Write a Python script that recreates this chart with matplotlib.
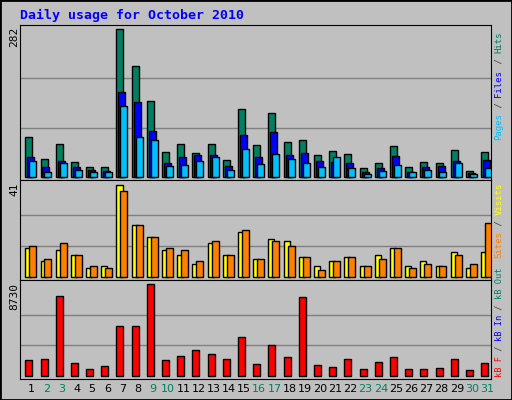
import matplotlib
matplotlib.use("Agg")
import matplotlib.pyplot as plt
from matplotlib.patches import Rectangle

days = list(range(1, 32))
weekend = [2, 3, 9, 10, 16, 17, 23, 24, 30, 31]

hits = [77, 35, 62, 29, 18, 18, 282, 211, 144, 47, 62, 45, 62, 33, 129, 60,
        121, 66, 70, 41, 50, 43, 16, 27, 58, 18, 29, 27, 52, 12, 47]
files = [37, 18, 31, 18, 14, 12, 163, 142, 87, 27, 37, 41, 41, 20, 79, 37,
         85, 41, 45, 31, 29, 26, 10, 16, 39, 10, 18, 20, 31, 8, 33]
pages = [31, 10, 27, 14, 10, 10, 135, 77, 70, 20, 22, 31, 37, 14, 54, 24,
         43, 35, 26, 18, 37, 16, 6, 12, 22, 10, 14, 10, 27, 6, 16]
visits = [13, 7, 12, 10, 4, 5, 41, 23, 18, 12, 10, 6, 15, 10, 20, 8,
          17, 16, 9, 5, 7, 9, 5, 10, 13, 5, 7, 5, 11, 4, 11]
sites = [14, 8, 15, 10, 5, 4, 38, 23, 18, 13, 12, 7, 16, 10, 21, 8,
         16, 14, 9, 3, 7, 9, 5, 8, 13, 4, 6, 5, 10, 6, 24]
kbytes = [1466, 1561, 7583, 1179, 605, 892, 4747, 4747, 8730, 1466, 1848,
          2421, 2039, 1561, 3664, 1083, 2900, 1752, 7487, 988, 797, 1561,
          605, 1274, 1752, 605, 605, 701, 1561, 510, 1179]

BG = "#C0C0C0"
MONO = "DejaVu Sans Mono"
W, H = 512, 400

fig = plt.figure(figsize=(5.12, 4), dpi=100, facecolor=BG)
fig.patches.append(Rectangle((0, 0), 1, 1, transform=fig.transFigure,
                             fill=False, ec="black", lw=2))


def panel(top, bottom, peak, ymax, lo):
    ax = fig.add_axes([20 / W, 1 - bottom / H, 471 / W, (bottom - top) / H])
    ax.set_facecolor(BG)
    ax.set_xlim(0, 31)
    ax.set_ylim(lo, ymax)
    ax.set_xticks([])
    ax.set_yticks([])
    for f in (1 / 3, 2 / 3):
        ax.axhline(f * peak, color="#808080", lw=1, zorder=0)
    for s in ax.spines.values():
        s.set_color("black")
    return ax


ax1 = panel(25, 180, 282, 290, -6)
ax2 = panel(180, 280, 41, 43, -1.2)
ax3 = panel(280, 379, 8730, 9100, -300)

x0 = [d - 1 for d in days]
kw = dict(align="edge", edgecolor="black", linewidth=1)
ax1.bar([x + 0.35 for x in x0], hits, 0.46, color="#008060", **kw)
ax1.bar([x + 0.48 for x in x0], files, 0.46, color="#0000FF", **kw)
ax1.bar([x + 0.61 for x in x0], pages, 0.46, color="#00C0FF", **kw)
ax2.bar([x + 0.35 for x in x0], visits, 0.4, color="#FFFF00", **kw)
ax2.bar([x + 0.61 for x in x0], sites, 0.46, color="#FF8000", **kw)
ax3.bar([x + 0.35 for x in x0], kbytes, 0.46, color="#FF0000", **kw)

fig.text(20 / W, 1 - 15 / H, "Daily usage for October 2010", color="#0000FF",
         family=MONO, fontweight="bold", fontsize=9.5, va="center", ha="left")

for lab, y in (("282", 27), ("41", 183), ("8730", 283)):
    fig.text(14 / W, 1 - y / H, lab, rotation=90, va="top", ha="center",
             family=MONO, fontsize=8)

for d in days:
    c = "#008060" if d in weekend else "black"
    fig.text((20 + (d - 0.25) * 471 / 31) / W, 1 - 389 / H, str(d),
             color=c, ha="center", va="center", fontsize=8)


def side_label(parts, bottom_px, size=6.5):
    # parts drawn bottom-to-top, rotated monospace text
    step = 0.602 * size * 100 / 72
    y = bottom_px
    for txt, col in parts:
        fig.text(499 / W, 1 - y / H, txt, rotation=90, color=col, family=MONO,
                 fontsize=size, va="bottom", ha="center")
        y -= step * len(txt)


side_label([("Pages", "#00C0FF"), (" / ", "#404040"), ("Files", "#0000FF"),
            (" / ", "#404040"), ("Hits", "#008060")], 140)
side_label([("Sites", "#FF8000"), (" / ", "#404040"), ("Visits", "#FFFF00")], 258)
side_label([("kB F", "#FF0000"), (" / ", "#404040"), ("kB In", "#0000FF"),
            (" / ", "#404040"), ("kB Out", "#008060")], 377, size=6.2)

fig.savefig("out.png", dpi=100, facecolor=BG)
